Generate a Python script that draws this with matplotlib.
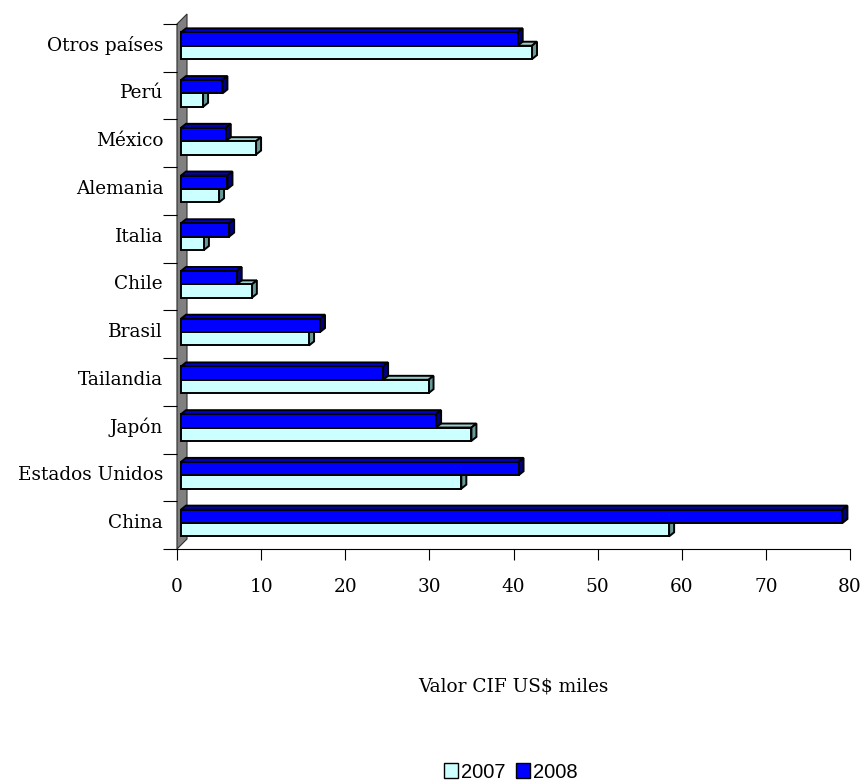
import matplotlib
matplotlib.use('Agg')
import matplotlib.pyplot as plt
import matplotlib.transforms as mtrans
from matplotlib.patches import Polygon, Patch

categories = ['China', 'Estados Unidos', 'Japón', 'Tailandia', 'Brasil', 'Chile',
              'Italia', 'Alemania', 'México', 'Perú', 'Otros países']
v2007 = [58.5, 33.8, 35.0, 29.9, 15.7, 8.9, 3.2, 5.0, 9.4, 3.1, 42.2]
v2008 = [79.1, 40.6, 30.8, 24.5, 17.0, 7.1, 6.2, 6.0, 5.8, 5.4, 40.5]
xticks = [0, 10, 20, 30, 40, 50, 60, 70, 80]
xlabel = 'Valor CIF US$ miles'
series_names = ['2007', '2008']

col_front = ['#CCFFFF', '#0000FF']
col_top = ['#99CCCC', '#0000CC']
col_side = ['#669999', '#000080']

W, H = 864, 784
fig = plt.figure(figsize=(W / 100, H / 100), dpi=100)
ax_l, ax_r, ax_b, ax_t = 177, 850, 549, 24
ax = fig.add_axes([ax_l / W, 1 - ax_b / H, (ax_r - ax_l) / W, (ax_b - ax_t) / H])
ax.set_xlim(0, 80)
n = len(categories)
ax.set_ylim(-0.5, n - 0.5)

pxx = (ax_r - ax_l) / 80.0
pxy = (ax_b - ax_t) / n
ddx, ddy = 5 / pxx, 4 / pxy          # bar depth
wdx, wdy = 10 / pxx, 10 / pxy        # wall depth
front_off = 4 / pxx

# gray side wall
wall = Polygon([(0, -0.5), (0, n - 0.5), (wdx, n - 0.5 + wdy), (wdx, -0.5 + wdy)],
               closed=True, facecolor='#808080', edgecolor='#303030', lw=0.8,
               zorder=1, clip_on=False)
ax.add_patch(wall)

h = 0.28
offsets = [-0.095, 0.185]
lw = 1.4
z = 2
for i in range(n):
    for s, vals in enumerate([v2007, v2008]):
        v = vals[i]
        yc = i + offsets[s]
        y0, y1 = yc - h / 2, yc + h / 2
        x0 = front_off
        ax.barh(yc, v - x0, left=x0, height=h, color=col_front[s], edgecolor='black',
                linewidth=lw, zorder=z + 1)
        top = Polygon([(x0, y1), (x0 + ddx, y1 + ddy), (v + ddx, y1 + ddy), (v, y1)],
                      closed=True, facecolor=col_top[s], edgecolor='black', lw=lw,
                      zorder=z, clip_on=False)
        side = Polygon([(v, y0), (v + ddx, y0 + ddy), (v + ddx, y1 + ddy), (v, y1)],
                       closed=True, facecolor=col_side[s], edgecolor='black', lw=lw,
                       zorder=z, clip_on=False)
        ax.add_patch(top)
        ax.add_patch(side)
        z += 2

for sp in ['top', 'right']:
    ax.spines[sp].set_visible(False)
ax.spines['left'].set_color('black')
ax.spines['bottom'].set_color('black')
ax.spines['left'].set_linewidth(0.8)
ax.spines['bottom'].set_linewidth(0.8)
ax.spines['left'].set_zorder(0.5)

serif = ['DejaVu Serif']
fs = 13.3
ax.set_xticks(xticks)
ax.set_xticklabels([str(t) for t in xticks], fontfamily=serif, fontsize=fs)
ax.tick_params(axis='x', length=8, width=0.8, pad=13, colors='black')
ax.set_yticks([i for i in range(n)])
ax.set_yticklabels(categories, fontfamily=serif, fontsize=fs)
ax.tick_params(axis='y', length=0, pad=10)
ax.set_yticks([i - 0.5 for i in range(n + 1)], minor=True)
ax.tick_params(axis='y', which='minor', length=10, width=0.8)
for lab in ax.get_yticklabels():
    lab.set_transform(lab.get_transform() + mtrans.ScaledTranslation(0, 3 / 72, fig.dpi_scale_trans))

fig.text((ax_l + ax_r) / 2 / W, 1 - 687 / H, xlabel, ha='center', va='center',
         fontfamily=serif, fontsize=fs)

handles = [Patch(facecolor=col_front[k], edgecolor='black', lw=1.0) for k in range(2)]
fig.legend(handles, series_names, loc='center', bbox_to_anchor=(511 / W, 1 - 772 / H),
           ncol=2, frameon=False, prop={'family': 'Liberation Sans', 'size': 14.5},
           handlelength=0.7, handleheight=0.7, handletextpad=0.15, columnspacing=0.5,
           borderpad=0)

fig.savefig('out.png', dpi=100, facecolor='white')
